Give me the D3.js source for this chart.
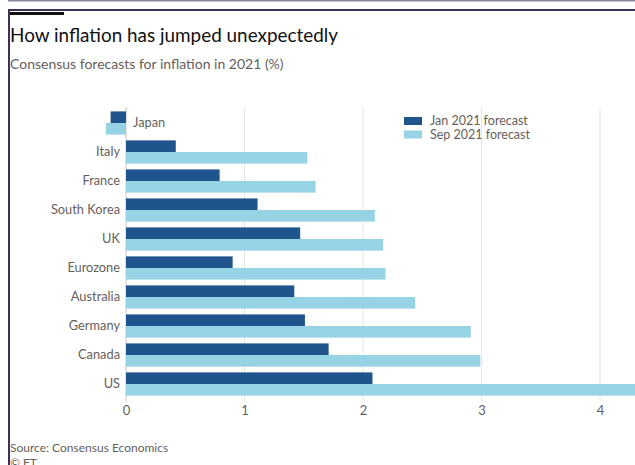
<!DOCTYPE html>
<html>
<head>
<meta charset="utf-8">
<script src="https://cdn.jsdelivr.net/npm/d3@7/dist/d3.min.js"></script>
<style>
  html, body { margin: 0; padding: 0; background: #fff; }
  svg { display: block; font-family: Lato, "Open Sans", sans-serif; }
</style>
</head>
<body>
<svg id="chart" width="635" height="465"></svg>
<script>
// Consensus forecasts for 2021 inflation (%)
const countries = ["Japan", "Italy", "France", "South Korea", "UK", "Eurozone", "Australia", "Germany", "Canada", "US"];
const janForecast = [-0.13, 0.42, 0.79, 1.11, 1.47, 0.90, 1.42, 1.51, 1.71, 2.08];
const sepForecast = [-0.17, 1.53, 1.60, 2.10, 2.17, 2.19, 2.44, 2.91, 2.99, 4.30];
const seriesNames = ["Jan 2021 forecast", "Sep 2021 forecast"];
const seriesColors = ["#1f558c", "#95d3e5"];
const xTicks = [0, 1, 2, 3, 4];

const svg = d3.select("#chart");
const W = 635, H = 465;

// frame
svg.append("rect").attr("x", 8).attr("y", 0).attr("width", W - 8).attr("height", 1.5).attr("fill", "#8c8299");
svg.append("rect").attr("x", 8).attr("y", 9).attr("width", W - 8).attr("height", 2).attr("fill", "#3e3056");
svg.append("rect").attr("x", 8).attr("y", 9).attr("width", 2).attr("height", H - 9).attr("fill", "#3e3056");
svg.append("rect").attr("x", 10).attr("y", 12).attr("width", 54).attr("height", 3).attr("fill", "#111");

// titles
svg.append("text").attr("x", 10).attr("y", 42)
  .attr("font-size", 18.9).attr("fill", "#111").text("How inflation has jumped unexpectedly");
svg.append("text").attr("x", 10).attr("y", 69)
  .attr("font-size", 14).attr("fill", "#66605c").text("Consensus forecasts for inflation in 2021 (%)");

// scales
const x = d3.scaleLinear().domain([0, 4]).range([126, 600]);
const y = d3.scaleBand().domain(countries).range([108.5, 398.5]).paddingInner(0.2).paddingOuter(0.1);
const ySub = d3.scaleBand().domain([0, 1]).range([0, y.bandwidth()]);

// gridlines
const grid = svg.append("g");
grid.selectAll("line").data(xTicks).join("line")
  .attr("x1", d => x(d)).attr("x2", d => x(d))
  .attr("y1", 107).attr("y2", 401)
  .attr("stroke", d => d === 0 ? "#c9c2bc" : "#ebe3dd").attr("stroke-width", 1);

// x axis labels
const xAxis = svg.append("g").attr("transform", "translate(0,401)")
  .call(d3.axisBottom(x).tickValues(xTicks).tickSize(0).tickPadding(5).tickFormat(d3.format("d")));
xAxis.select(".domain").remove();
xAxis.selectAll("text").attr("font-size", 13).attr("fill", "#66605c")
  .attr("font-family", "Lato, 'Open Sans', sans-serif");

// bars
const rows = countries.map((c, i) => ({ c, vals: [janForecast[i], sepForecast[i]] }));
const g = svg.append("g");
rows.forEach(r => {
  r.vals.forEach((v, k) => {
    g.append("rect")
      .attr("x", x(Math.min(0, v)))
      .attr("width", Math.abs(x(v) - x(0)))
      .attr("y", y(r.c) + ySub(k))
      .attr("height", ySub.bandwidth())
      .attr("fill", seriesColors[k]);
  });
});

// category labels
svg.append("g").selectAll("text").data(rows).join("text")
  .attr("x", d => d.vals[0] < 0 ? x(0) + 7 : x(0) - 6)
  .attr("y", d => y(d.c) + y.bandwidth() / 2)
  .attr("dy", "0.35em")
  .attr("text-anchor", d => d.vals[0] < 0 ? "start" : "end")
  .attr("font-size", 12.8).attr("fill", "#66605c")
  .text(d => d.c);

// legend
const lg = svg.append("g").attr("transform", "translate(404,117)");
seriesNames.forEach((n, k) => {
  lg.append("rect").attr("x", 0).attr("y", k * 13.5).attr("width", 18).attr("height", 8).attr("fill", seriesColors[k]);
  lg.append("text").attr("x", 26).attr("y", k * 13.5 + 4).attr("dy", "0.35em")
    .attr("font-size", 12.5).attr("fill", "#66605c").text(n);
});

// source
svg.append("text").attr("x", 10).attr("y", 452).attr("font-size", 12).attr("fill", "#66605c").text("Source: Consensus Economics");
svg.append("text").attr("x", 10).attr("y", 466.5).attr("font-size", 12).attr("fill", "#66605c").text("© FT");
</script>
</body>
</html>
